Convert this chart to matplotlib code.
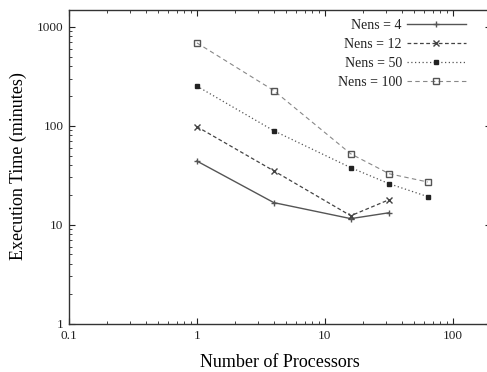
import matplotlib.pyplot as plt
from matplotlib.ticker import LogLocator, FixedLocator, FixedFormatter, NullFormatter

plt.rcParams['font.family'] = ['Liberation Serif', 'DejaVu Serif']

procs = [1, 4, 16, 32, 64]
nens_4 = [44, 16.7, 11.5, 13.2]
nens_12 = [98, 35, 12.3, 17.9]
nens_50 = [252, 89, 37.7, 25.9, 19.2]
nens_100 = [690, 227, 52, 32.7, 27]

series = [
    ('Nens = 4', nens_4, dict(color='#555555', ls='-', lw=1.0, marker='+', ms=5, mew=1.0)),
    ('Nens = 12', nens_12, dict(color='#444444', ls=(0, (3, 2)), lw=0.9, marker='x', ms=4, mew=1.0)),
    ('Nens = 50', nens_50, dict(color='#555555', ls=(0, (1, 2)), lw=0.9, marker='s', ms=3.5,
                                mfc='#222222', mec='#222222')),
    ('Nens = 100', nens_100, dict(color='#888888', ls=(0, (4, 3)), lw=0.8, marker='s', ms=4.5,
                                  mfc='none', mec='#555555', mew=1.0)),
]

fig = plt.figure(figsize=(4.87, 3.72), dpi=100)
ax = fig.add_axes([69 / 487, 48.5 / 372, (491 - 69) / 487, (323.5 - 9.5) / 372])

for label, vals, style in series:
    ax.plot(procs[:len(vals)], vals, label=label, **style)

ax.set_xscale('log')
ax.set_yscale('log')
ax.set_xlim(0.1, 200)
ax.set_ylim(1, 1500)

ax.xaxis.set_major_locator(FixedLocator([0.1, 1, 10, 100]))
ax.xaxis.set_major_formatter(FixedFormatter(['0.1', '1', '10', '100']))
ax.yaxis.set_major_locator(FixedLocator([1, 10, 100, 1000]))
ax.yaxis.set_major_formatter(FixedFormatter(['1', '10', '100', '1000']))
for axis in (ax.xaxis, ax.yaxis):
    axis.set_minor_locator(LogLocator(base=10, subs=range(2, 10), numticks=20))
    axis.set_minor_formatter(NullFormatter())

ax.tick_params(which='both', direction='in', top=True, right=True, labelsize=9.5, colors='#222222')
ax.tick_params(which='major', length=4, width=0.8)
ax.tick_params(which='minor', length=2, width=0.6)
ax.tick_params(axis='x', pad=5)
ax.tick_params(axis='y', pad=4)
for sp in ax.spines.values():
    sp.set_linewidth(1.0)
    sp.set_color('#333333')

ax.set_xlabel('Number of Processors', fontsize=13, labelpad=8)
ax.set_ylabel('Execution Time (minutes)', fontsize=13, labelpad=7)

leg = ax.legend(loc='upper right', bbox_to_anchor=(0.963, 1.0), frameon=False, fontsize=10,
                markerfirst=False, handlelength=4.2, handletextpad=0.4, labelspacing=0.42,
                borderaxespad=0.3)
for col in leg._legend_handle_box.get_children():
    col.align = 'right'
for t in leg.get_texts():
    t.set_color('#222222')

fig.savefig('out.png', dpi=100)
